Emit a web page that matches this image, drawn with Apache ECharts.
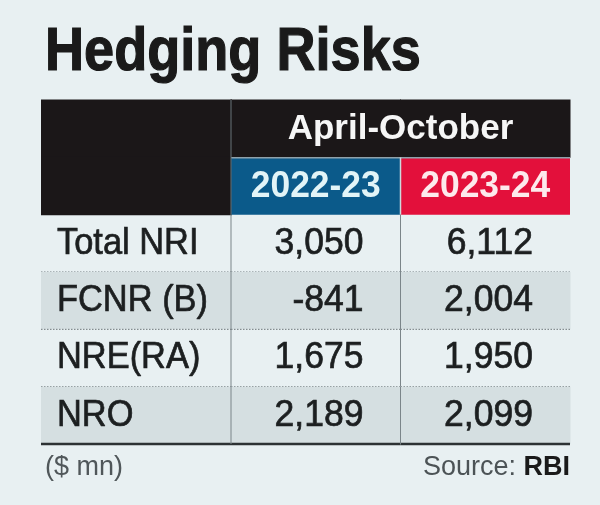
<!DOCTYPE html>
<html>
<head>
<meta charset="utf-8">
<script src="https://cdn.jsdelivr.net/npm/echarts@6/dist/echarts.min.js"></script>
<style>
html,body{margin:0;padding:0;background:#e8f0f2;}
#chart{width:600px;height:505px;}
</style>
</head>
<body>
<div id="chart"></div>
<script>
// ---- data ----
const titleText = 'Hedging Risks';
const periodLabel = 'April-October';
const years = ['2022-23', '2023-24'];
const rowLabels = ['Total NRI', 'FCNR (B)', 'NRE(RA)', 'NRO'];
const values2022 = [3050, -841, 1675, 2189];
const values2023 = [6112, 2004, 1950, 2099];
const unitNote = '($ mn)';
const sourceName = 'RBI';

// ---- build ----
const yCats = ['period', 'years'].concat(rowLabels);
const valueCols = [values2022, values2023];
const FONT = '"Liberation Sans", Arial, sans-serif';
const BLACK = '#1b1718';
const yearColors = ['#0b5a8a', '#e3103b'];
const yearText = ['#e2f4f7', '#fde9ec'];
const SHADE = '#d5dfe1';
const INK = '#1c1f20';

function fmt(v) { return v.toLocaleString('en-US'); }

const labelData = yCats.map((c, i) => [0, i]);
const cellData = [];
for (let i = 0; i < yCats.length; i++) {
  for (let j = 0; j < years.length; j++) {
    cellData.push([j, i]);
  }
}

function cellBox(api, x, y) {
  const c = api.coord([x, y]);
  const s = api.size([1, 1]);
  return { x: c[0] - s[0] / 2, y: c[1] - s[1] / 2, w: s[0], h: s[1], cx: c[0], cy: c[1] };
}

function bodyDecor(children, b, yi) {
  const r = yi - 2;
  if (r % 2 === 1) {
    children.push({ type: 'rect', shape: { x: b.x, y: b.y, width: b.w + 0.5, height: b.h }, style: { fill: SHADE } });
  }
  const last = yi === yCats.length - 1;
  if (last) {
    children.push({ type: 'line', shape: { x1: b.x, y1: b.y + b.h, x2: b.x + b.w, y2: b.y + b.h }, style: { stroke: '#2c3234', lineWidth: 2.5 } });
  } else {
    children.push({ type: 'line', shape: { x1: b.x, y1: b.y + b.h, x2: b.x + b.w, y2: b.y + b.h }, style: { stroke: '#6f797c', lineWidth: 1, lineDash: [1.5, 1.5] } });
  }
}

function bodyText(text, x, y, align, sx) {
  return {
    type: 'text', x: x, y: y, scaleX: sx,
    style: { text: text, fontSize: 37, fontFamily: FONT, fill: INK, stroke: INK, lineWidth: 0.7, align: align, verticalAlign: 'middle' }
  };
}

function renderLabel(params, api) {
  const yi = api.value(1);
  const b = cellBox(api, 0, yi);
  const children = [];
  if (yi < 2) {
    children.push({ type: 'rect', shape: { x: b.x, y: b.y - 0.5, width: b.w + 1, height: b.h + 1 }, style: { fill: BLACK } });
  } else {
    bodyDecor(children, b, yi);
    children.push(bodyText(rowLabels[yi - 2], b.x + 16, b.cy, 'left', 0.93));
  }
  return { type: 'group', children: children };
}

function renderCell(params, api) {
  const xi = api.value(0);
  const yi = api.value(1);
  const b = cellBox(api, xi, yi);
  const children = [];
  if (yi === 0) {
    children.push({ type: 'rect', shape: { x: b.x - 0.5, y: b.y - 0.5, width: b.w + 1, height: b.h + 1 }, style: { fill: BLACK } });
    if (xi === 0) {
      children.push({ type: 'line', shape: { x1: b.x, y1: b.y, x2: b.x, y2: b.y + b.h }, style: { stroke: '#5d666a', lineWidth: 1.2 } });
    } else {
      // merged header cell: centered across both year columns
      children.push({
        type: 'text', x: b.x, y: b.cy + 1, scaleX: 1.0,
        style: { text: periodLabel, fontSize: 35, fontWeight: 'bold', fontFamily: FONT, fill: '#f6f6f6', align: 'center', verticalAlign: 'middle' }
      });
    }
  } else if (yi === 1) {
    children.push({ type: 'rect', shape: { x: b.x, y: b.y, width: b.w, height: b.h }, style: { fill: yearColors[xi] } });
    children.push({ type: 'line', shape: { x1: b.x, y1: b.y + 0.5, x2: b.x + b.w, y2: b.y + 0.5 }, style: { stroke: '#8fa2ab', lineWidth: 1.5 } });
    children.push({ type: 'line', shape: { x1: b.x, y1: b.y, x2: b.x, y2: b.y + b.h }, style: { stroke: xi === 0 ? '#5d666a' : '#cfd9dc', lineWidth: xi === 0 ? 1.2 : 1.5 } });
    children.push({
      type: 'text', x: b.cx, y: b.cy + 1, scaleX: 0.945,
      style: { text: years[xi], fontSize: 37.5, fontWeight: 'bold', fontFamily: FONT, fill: yearText[xi], align: 'center', verticalAlign: 'middle' }
    });
  } else {
    bodyDecor(children, b, yi);
    children.push({ type: 'line', shape: { x1: b.x, y1: b.y, x2: b.x, y2: b.y + b.h }, style: { stroke: '#7b8589', lineWidth: 1 } });
    children.push(bodyText(fmt(valueCols[xi][yi - 2]), b.x + b.w - 37, b.cy, 'right', 0.96));
  }
  return { type: 'group', children: children };
}

const chart = echarts.init(document.getElementById('chart'), null, { renderer: 'canvas' });
chart.setOption({
  backgroundColor: '#e8f0f2',
  animation: false,
  tooltip: { show: false },
  grid: [
    { left: 41, top: 100, width: 190, height: 344 },
    { left: 231, top: 100, width: 339, height: 344 }
  ],
  xAxis: [
    { type: 'category', gridIndex: 0, data: ['label'], show: false },
    { type: 'category', gridIndex: 1, data: years, show: false }
  ],
  yAxis: [
    { type: 'category', gridIndex: 0, data: yCats, inverse: true, show: false },
    { type: 'category', gridIndex: 1, data: yCats, inverse: true, show: false }
  ],
  graphic: [
    {
      type: 'text', x: 45, y: 53, scaleX: 0.887,
      style: { text: titleText, fontSize: 61, fontWeight: 'bold', fontFamily: FONT, fill: '#1a1a1a', stroke: '#1a1a1a', lineWidth: 1.2, verticalAlign: 'middle', align: 'left' }
    },
    {
      type: 'text', x: 45, y: 468,
      style: { text: unitNote, fontSize: 27, fontFamily: FONT, fill: '#50575a', verticalAlign: 'middle', align: 'left' }
    },
    {
      type: 'text', x: 570, y: 468,
      style: {
        text: '{a|Source: }{b|' + sourceName + '}',
        align: 'right', verticalAlign: 'middle',
        rich: {
          a: { fontSize: 27, fontFamily: FONT, fill: '#4c5356', color: '#4c5356' },
          b: { fontSize: 27, fontFamily: FONT, fontWeight: 'bold', fill: '#1a1a1a', color: '#1a1a1a' }
        }
      }
    }
  ],
  series: [
    { type: 'custom', xAxisIndex: 0, yAxisIndex: 0, renderItem: renderLabel, data: labelData, silent: true },
    { type: 'custom', xAxisIndex: 1, yAxisIndex: 1, renderItem: renderCell, data: cellData, silent: true, z: 3 }
  ]
});
</script>
</body>
</html>
